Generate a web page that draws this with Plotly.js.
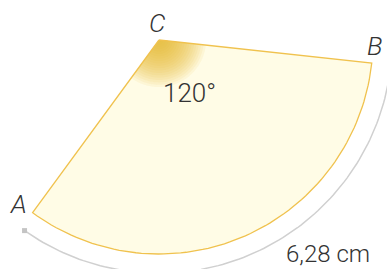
<!DOCTYPE html>
<html><head><meta charset="utf-8">
<script src="https://cdn.plot.ly/plotly-3.0.1.min.js"></script>
<style>html,body{margin:0;padding:0;background:#fff}#g{width:387px;height:269px}</style>
</head><body><div id="g"></div>
<script>
// chart values
const vertexLabels = ["A", "B", "C"];
const angleDeg = [120];
const arcLength = [6.28];          // cm
const angleLabel = ["120°"];
const arcLabel = ["6,28 cm"];

const radius = arcLength[0] / (angleDeg[0] * Math.PI / 180); // 3 cm
const startA = -126.2, endA = startA + angleDeg[0];

function arcPts(r, a0, a1, n) {
  const xs = [], ys = [];
  for (let i = 0; i <= n; i++) {
    const a = (a0 + (a1 - a0) * i / n) * Math.PI / 180;
    xs.push(r * Math.cos(a)); ys.push(r * Math.sin(a));
  }
  return [xs, ys];
}
function wedge(r) {
  const [xs, ys] = arcPts(r, startA, endA, 80);
  return [[0].concat(xs, [0]), [0].concat(ys, [0])];
}

const traces = [];
const [wx, wy] = wedge(radius);
traces.push({x: wx, y: wy, mode: 'none', fill: 'toself', fillcolor: '#fffce6', hoverinfo: 'skip'});

// glow near C
for (let i = 0; i < 20; i++) {
  const r = 0.66 * (i + 1) / 20;
  const [gx, gy] = wedge(r);
  traces.push({x: gx, y: gy, mode: 'none', fill: 'toself',
    fillcolor: 'rgba(233,182,46,0.085)', hoverinfo: 'skip'});
}
// edges
traces.push({x: wx, y: wy, mode: 'lines', line: {color: '#f0c24e', width: 1.3}, hoverinfo: 'skip'});

// outer arc (length indicator)
const [ox, oy] = arcPts(radius * 1.09, startA + 1.0, 5, 120);
traces.push({x: ox, y: oy, mode: 'lines', line: {color: '#d0d0d0', width: 1.5}, hoverinfo: 'skip'});
traces.push({x: [ox[0]], y: [oy[0]], mode: 'markers',
  marker: {symbol: 'square', size: 5, color: '#c4c4c4'}, hoverinfo: 'skip'});

const s = radius / 214; // cm per px
const X = px => (px - 159) * s, Y = py => -(py - 40) * s;

const f = {family: 'Roboto, sans-serif', color: '#333', size: 26, weight: 300};
const fl = Object.assign({}, f, {style: 'italic'});
const ann = [
  {x: X(18), y: Y(204), text: vertexLabels[0], font: fl},
  {x: X(374), y: Y(46), text: vertexLabels[1], font: fl},
  {x: X(157), y: Y(23), text: vertexLabels[2], font: fl},
  {x: X(189), y: Y(93), text: angleLabel[0], font: f},
  {x: X(328), y: Y(254), text: arcLabel[0], font: Object.assign({}, f, {size: 24})}
].map(a => Object.assign({showarrow: false, xref: 'x', yref: 'y'}, a));

Plotly.newPlot('g', traces, {
  width: 387, height: 269, margin: {l: 0, r: 0, t: 0, b: 0},
  paper_bgcolor: '#fff', plot_bgcolor: '#fff', showlegend: false,
  xaxis: {range: [X(0), X(387)], visible: false, fixedrange: true},
  yaxis: {range: [Y(269), Y(0)], visible: false, fixedrange: true},
  annotations: ann
}, {staticPlot: true});
</script></body></html>
